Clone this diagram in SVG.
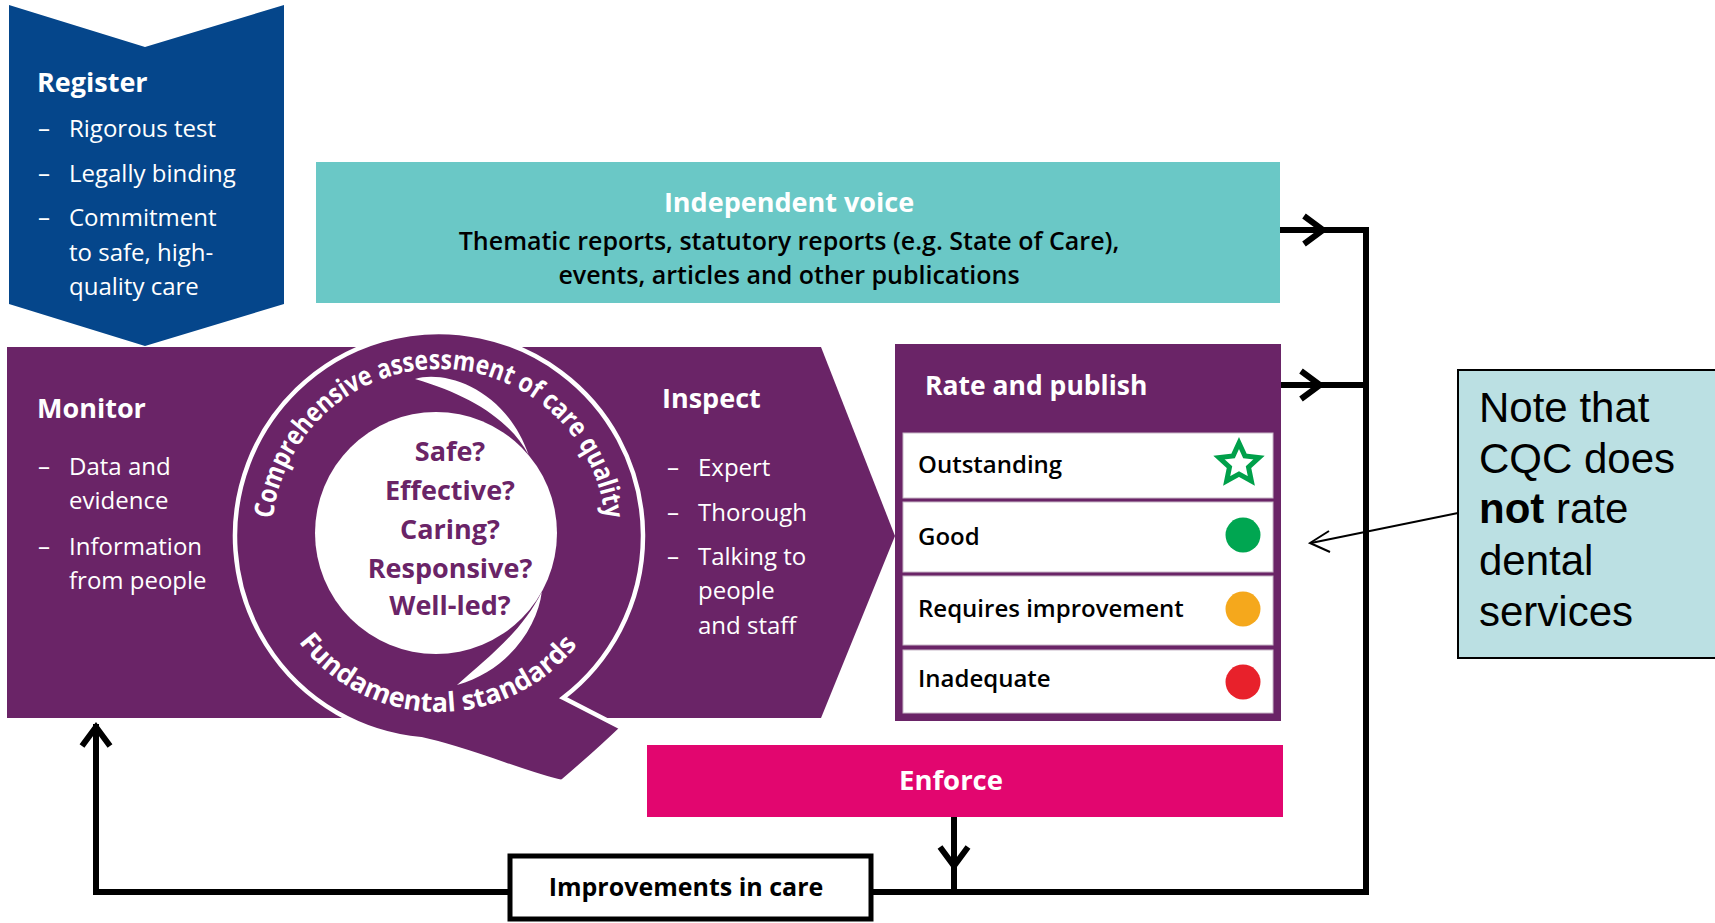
<svg xmlns="http://www.w3.org/2000/svg" xmlns:xlink="http://www.w3.org/1999/xlink" width="1715" height="923" viewBox="0 0 1715 923">
  <style>
    text { font-family: "Open Sans", "Noto Sans", sans-serif; }
    .head { font-size: 27px; font-weight: 700; fill: #ffffff; }
    .body { font-size: 24px; font-weight: 400; fill: #ffffff; }
    .q { font-size: 27px; font-weight: 700; fill: #6a2467; text-anchor: middle; }
    .ring { font-size: 27px; font-weight: 700; fill: #ffffff; }
    .voice { font-size: 25px; font-weight: 600; fill: #000000; text-anchor: middle; }
    .rating { font-size: 24px; font-weight: 600; fill: #000000; }
    .line { fill: none; stroke: #000000; stroke-width: 6; stroke-linejoin: miter; }
    .note { font-family: "Liberation Sans", Arial, sans-serif; font-size: 42px; fill: #000000; }
  </style>
  <defs>
    <path id="chev" d="M-19,-14 L0,0 L-19,14" fill="none" stroke="#000000" stroke-width="6" stroke-linejoin="miter" stroke-miterlimit="10"/>
    <path id="ringTop" d="M272,536 A167,167 0 0,1 606,536"/>
    <path id="ringBottom" d="M263,536 A176,176 0 0,0 615,536"/>
  </defs>

  <rect width="1715" height="923" fill="#ffffff"/>

  <!-- Independent voice -->
  <g id="independent-voice">
    <rect x="316" y="162" width="964" height="141" fill="#6ac8c6"/>
    <text class="head" x="789" y="212" text-anchor="middle">Independent voice</text>
    <text class="voice" x="789" y="250">Thematic reports, statutory reports (e.g. State of Care),</text>
    <text class="voice" x="789" y="284">events, articles and other publications</text>
  </g>

  <!-- Monitor / Inspect band -->
  <g id="monitor-inspect">
    <polygon points="7,347 821,347 895,536 821,718 7,718" fill="#6a2467"/>
    <text class="head" x="37" y="418">Monitor</text>
    <text class="body" x="38" y="475">–</text>
    <text class="body" x="69" y="475">Data and</text>
    <text class="body" x="69" y="509">evidence</text>
    <text class="body" x="38" y="555">–</text>
    <text class="body" x="69" y="555">Information</text>
    <text class="body" x="69" y="589">from people</text>

    <text class="head" x="662" y="408">Inspect</text>
    <text class="body" x="667" y="476">–</text>
    <text class="body" x="698" y="476">Expert</text>
    <text class="body" x="667" y="521">–</text>
    <text class="body" x="698" y="521">Thorough</text>
    <text class="body" x="667" y="565">–</text>
    <text class="body" x="698" y="565">Talking to</text>
    <text class="body" x="698" y="599">people</text>
    <text class="body" x="698" y="634">and staff</text>
  </g>

  <!-- The Q: comprehensive assessment ring -->
  <g id="assessment-q">
    <path d="M563.2,697.8 L622,728 Q597,752 562,782 C530,776 472,750 421.2,739.2 A204,204 0 1,1 563.2,697.8 Z" fill="#6a2467" stroke="#ffffff" stroke-width="4.5" stroke-linejoin="miter"/>
    <circle cx="436" cy="533" r="121" fill="#ffffff"/>
    <!-- upper crescent -->
    <path d="M415,379 C445,370 505,388 528.7,455 C510,420 470,395 415,379 Z" fill="#ffffff"/>
    <!-- lower crescent -->
    <path d="M541.8,591.7 C538,625 510,670 457,685 C485,660 522,632 541.8,591.7 Z" fill="#ffffff"/>
    <text class="ring"><textPath xlink:href="#ringTop" href="#ringTop" startOffset="50%" text-anchor="middle" textLength="490" lengthAdjust="spacingAndGlyphs">Comprehensive assessment of care quality</textPath></text>
    <text class="ring"><textPath xlink:href="#ringBottom" href="#ringBottom" startOffset="49.7%" text-anchor="middle" textLength="322" lengthAdjust="spacingAndGlyphs">Fundamental standards</textPath></text>
    <text class="q" x="450" y="461">Safe?</text>
    <text class="q" x="450" y="500">Effective?</text>
    <text class="q" x="450" y="539">Caring?</text>
    <text class="q" x="450" y="578">Responsive?</text>
    <text class="q" x="450" y="615">Well-led?</text>
  </g>

  <!-- Register -->
  <g id="register">
    <polygon points="9,5 145,47 284,5 284,304 145,346 9,304" fill="#05468b"/>
    <text class="head" x="37" y="92">Register</text>
    <text class="body" x="38" y="137">–</text>
    <text class="body" x="69" y="137">Rigorous test</text>
    <text class="body" x="38" y="182">–</text>
    <text class="body" x="69" y="182">Legally binding</text>
    <text class="body" x="38" y="226">–</text>
    <text class="body" x="69" y="226">Commitment</text>
    <text class="body" x="69" y="261">to safe, high-</text>
    <text class="body" x="69" y="295">quality care</text>
  </g>

  <!-- Rate and publish -->
  <g id="rate-and-publish">
    <rect x="895" y="344" width="386" height="377" fill="#6a2467"/>
    <text class="head" x="925" y="395" style="font-size:26.5px">Rate and publish</text>
    <g fill="#ffffff" stroke="#c8b7c7" stroke-width="1">
      <rect x="903" y="433" width="370" height="65"/>
      <rect x="903" y="502" width="370" height="70"/>
      <rect x="903" y="576" width="370" height="69"/>
      <rect x="903" y="650" width="370" height="63"/>
    </g>
    <text class="rating" x="918" y="473">Outstanding</text>
    <text class="rating" x="918" y="545">Good</text>
    <text class="rating" x="918" y="617">Requires improvement</text>
    <text class="rating" x="918" y="687">Inadequate</text>
    <polygon points="1239,443 1244.88,455.91 1258.97,457.51 1248.51,467.09 1251.34,480.99 1239,474 1226.66,480.99 1229.49,467.09 1219.03,457.51 1233.12,455.91" fill="#ffffff" stroke="#00a04a" stroke-width="5" stroke-linejoin="miter" stroke-miterlimit="10"/>
    <circle cx="1243" cy="535" r="17.5" fill="#00a651"/>
    <circle cx="1243" cy="609" r="17.5" fill="#f5a81c"/>
    <circle cx="1243" cy="682" r="17.5" fill="#e8212b"/>
  </g>

  <!-- Enforce -->
  <g id="enforce">
    <rect x="647" y="745" width="636" height="72" fill="#e2066f"/>
    <text class="head" x="951" y="790" text-anchor="middle" style="font-size:27.5px">Enforce</text>
  </g>

  <!-- Connectors -->
  <g id="connectors">
    <path class="line" d="M1280,230 H1366 V892 H96 V724"/>
    <path class="line" d="M1281,385 H1366"/>
    <path class="line" d="M954,817 V892"/>
    <use href="#chev" xlink:href="#chev" transform="translate(1323,230)"/>
    <use href="#chev" xlink:href="#chev" transform="translate(1320,385)"/>
    <use href="#chev" xlink:href="#chev" transform="translate(954,866) rotate(90)"/>
    <use href="#chev" xlink:href="#chev" transform="translate(96,727) rotate(-90)"/>
  </g>

  <!-- Improvements in care -->
  <g id="improvements">
    <rect x="510" y="856" width="361" height="63" fill="#ffffff" stroke="#000000" stroke-width="5"/>
    <text x="686" y="896" text-anchor="middle" style="font-size:25px;font-weight:700;fill:#000000">Improvements in care</text>
  </g>

  <!-- Note callout -->
  <g id="note">
    <rect x="1458" y="370" width="270" height="288" fill="#bbe0e3" stroke="#000000" stroke-width="2"/>
    <text class="note" x="1479" y="422">Note that</text>
    <text class="note" x="1479" y="473">CQC does</text>
    <text class="note" x="1479" y="523"><tspan font-weight="700">not</tspan> rate</text>
    <text class="note" x="1479" y="575">dental</text>
    <text class="note" x="1479" y="626">services</text>
  </g>
  <g id="note-pointer" fill="none" stroke="#000000" stroke-width="2">
    <path d="M1458,513 L1311,543"/>
    <path d="M1329,531 L1310,543 L1330,552"/>
  </g>
</svg>
